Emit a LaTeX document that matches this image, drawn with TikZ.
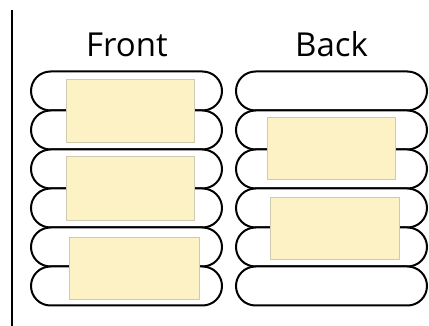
\documentclass[tikz,border=0pt]{standalone}
\usepackage{fontspec}
\setmainfont{Open Sans}
\usepackage{xcolor}
\definecolor{padfill}{HTML}{FDF2C5}
\definecolor{padline}{HTML}{CFCBB0}

\begin{document}
\begin{tikzpicture}[x=1pt,y=-1pt]
	 \tikzstyle{pill}=[draw,line width=2pt,fill=white,rectangle,rounded corners=19.5pt,minimum width=191pt,minimum height=39pt,inner sep=0pt]
	 \tikzstyle{pad}=[draw=padline,line width=1pt,fill=padfill,rectangle,inner sep=0pt]
	 \tikzstyle{title}=[anchor=base,inner sep=0pt,font=\fontsize{33}{36}\selectfont]

	\useasboundingbox (0,0) rectangle (429,326);
	\coordinate (top) at (12,10);
	\coordinate (bot) at (12,326);
	\draw[line width=2pt] (top) -- (bot);

	\node[title] (front) at (127,57) {Front};
	\node[title] (back) at (331.5,57) {Back};

	\node[pill] (f1) at (126.5,91) {};
	\node[pill] (f2) at (126.5,130) {};
	\node[pill] (f3) at (126.5,169) {};
	\node[pill] (f4) at (126.5,208) {};
	\node[pill] (f5) at (126.5,247) {};
	\node[pill] (f6) at (126.5,286) {};

	\node[pill] (b1) at (331.5,91) {};
	\node[pill] (b2) at (331.5,130) {};
	\node[pill] (b3) at (331.5,169) {};
	\node[pill] (b4) at (331.5,208) {};
	\node[pill] (b5) at (331.5,247) {};
	\node[pill] (b6) at (331.5,286) {};

	\node[pad,minimum width=128pt,minimum height=63pt] (fp1) at (130,111.5) {};
	\node[pad,minimum width=128pt,minimum height=64pt] (fp2) at (130,189) {};
	\node[pad,minimum width=130pt,minimum height=62pt] (fp3) at (134,269) {};

	\node[pad,minimum width=128pt,minimum height=62pt] (bp1) at (331,149) {};
	\node[pad,minimum width=129pt,minimum height=62pt] (bp2) at (334.5,229) {};
 \end{tikzpicture}
\end{document}
